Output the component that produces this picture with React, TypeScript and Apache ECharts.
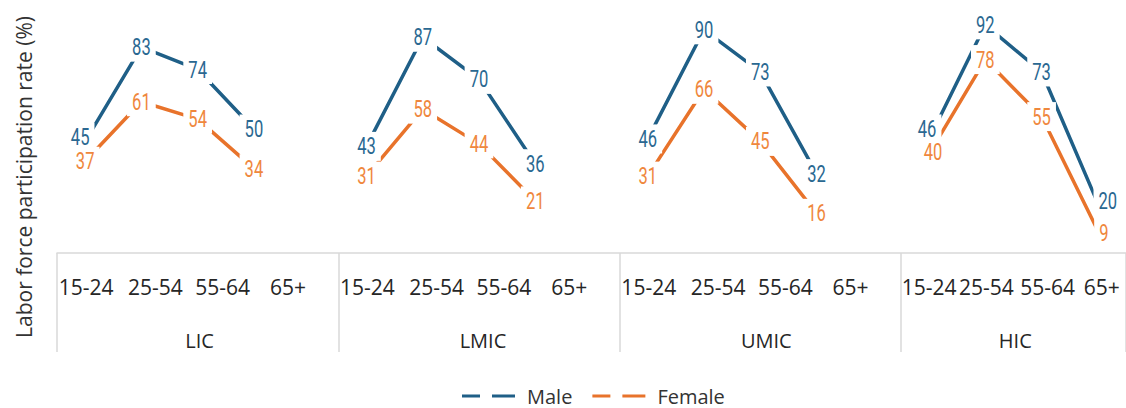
import React, { useEffect, useRef } from "react";
import * as echarts from "echarts";

const groups = ["LIC", "LMIC", "UMIC", "HIC"];
const ageGroups = ["15-24", "25-54", "55-64", "65+"];

const maleLIC = [45, 83, 74, 50];
const maleLMIC = [43, 87, 70, 36];
const maleUMIC = [46, 90, 73, 32];
const maleHIC = [46, 92, 73, 20];

const femaleLIC = [37, 61, 54, 34];
const femaleLMIC = [31, 58, 44, 21];
const femaleUMIC = [31, 66, 45, 16];
const femaleHIC = [40, 78, 55, 9];

const yTitle = "Labor force participation rate (%)";

const MALE_LINE = "#1F5F87";
const MALE_TEXT = "#2A6891";
const FEMALE_LINE = "#E8732B";
const FEMALE_TEXT = "#EF873D";
const GRID_GRAY = "#D9D9D9";
const TEXT_DARK = "#262626";

// label shifts (px) for the age labels inside a group, and for the group titles
const AGE_SHIFT = [1, 14, 25, 34];
const AGE_SHIFT_LAST = [0, 1, 6, 4];
const GROUP_SHIFT = [2, 4, 6, 30];
// small nudges of individual data labels [group, age, dx, dy]
const MALE_NUDGE = [
  [0, 0, -5, -4],
  [3, 0, -2, -10],
  [3, 3, 10, -2],
];
const FEMALE_NUDGE = [
  [3, 0, 4, -2],
  [3, 3, 6, 2],
];

export default function App() {
  const ref = useRef<HTMLDivElement>(null);

  useEffect(() => {
    if (!ref.current) return;
    const chart = echarts.init(ref.current, null, { renderer: "svg" });

    const maleByGroup = [maleLIC, maleLMIC, maleUMIC, maleHIC];
    const femaleByGroup = [femaleLIC, femaleLMIC, femaleUMIC, femaleHIC];

    const slots: string[] = [];
    const slotGroup: number[] = [];
    const slotAge: number[] = [];
    const groupSlots: string[] = [];
    const maleData: (number | null)[] = [];
    const femaleData: (number | null)[] = [];
    const maleLabels: number[][] = [];
    const femaleLabels: number[][] = [];
    const nudge = (list: number[][], gi: number, ai: number) => {
      const f = list.find((n) => n[0] === gi && n[1] === ai);
      return f ? [f[2], f[3]] : [0, 0];
    };
    groups.forEach((g, gi) => {
      const start = slots.length;
      const last = gi === groups.length - 1;
      ageGroups.forEach((a, ai) => {
        const idx = slots.length;
        slots.push(a);
        slotGroup.push(gi);
        slotAge.push(ai);
        maleData.push(maleByGroup[gi][ai]);
        femaleData.push(femaleByGroup[gi][ai]);
        const mn = nudge(MALE_NUDGE, gi, ai);
        const fn = nudge(FEMALE_NUDGE, gi, ai);
        maleLabels.push([idx, maleByGroup[gi][ai], mn[0], mn[1]]);
        femaleLabels.push([idx, femaleByGroup[gi][ai], fn[0], fn[1]]);
        groupSlots.push("");
      });
      if (!last) {
        slots.push("");
        slotGroup.push(gi);
        slotAge.push(-1);
        maleData.push(null);
        femaleData.push(null);
        groupSlots.push("");
      }
      groupSlots[start + (last ? 1 : 2)] = g;
    });

    const baseFont = { fontFamily: "'Open Sans', sans-serif", color: TEXT_DARK };
    const ageRich: any = {};
    for (let i = 0; i < 4; i++) {
      ageRich["a" + i] = { ...baseFont, fontSize: 21, padding: [0, 0, 0, 2 * AGE_SHIFT[i]] };
      ageRich["b" + i] = { ...baseFont, fontSize: 21, padding: [0, 0, 0, 2 * AGE_SHIFT_LAST[i]] };
    }
    const groupRich: any = {};
    for (let i = 0; i < groups.length; i++) {
      groupRich["g" + i] = { ...baseFont, fontSize: 20, padding: [0, 0, 0, 2 * GROUP_SHIFT[i]] };
    }

    const labelSeries = (name: string, data: number[][], color: string) => ({
      name,
      type: "custom",
      coordinateSystem: "cartesian2d",
      xAxisIndex: 0,
      yAxisIndex: 0,
      z: 5,
      silent: true,
      data,
      encode: { x: 0, y: 1 },
      renderItem: (params: any, api: any) => {
        const p = api.coord([api.value(0), api.value(1)]);
        return {
          type: "text",
          x: p[0] + api.value(2),
          y: p[1] + api.value(3),
          scaleX: 0.72,
          style: {
            text: String(api.value(1)),
            fontFamily: "Roboto, sans-serif",
            fontSize: 23,
            fill: color,
            align: "center",
            verticalAlign: "middle",
            backgroundColor: "#ffffff",
            padding: [3, 7],
          },
        };
      },
    });

    chart.setOption({
      animation: false,
      grid: { left: 57, right: -3, top: 5, bottom: 155, containLabel: false },
      xAxis: [
        {
          type: "category",
          data: slots,
          boundaryGap: true,
          axisLine: { show: true, lineStyle: { color: GRID_GRAY, width: 1.5 } },
          axisTick: {
            show: true,
            interval: (i: number) => i % 5 === 0,
            length: 99,
            lineStyle: { color: GRID_GRAY, width: 1.5 },
          },
          axisLabel: {
            interval: 0,
            margin: 34,
            verticalAlign: "middle",
            formatter: (v: string, i: number) => {
              if (!v) return "";
              const last = slotGroup[i] === groups.length - 1;
              return "{" + (last ? "b" : "a") + slotAge[i] + "|" + v + "}";
            },
            rich: ageRich,
          },
        },
        {
          type: "category",
          data: groupSlots,
          boundaryGap: true,
          position: "bottom",
          axisLine: { show: false },
          axisTick: { show: false },
          axisLabel: {
            interval: 0,
            margin: 87,
            verticalAlign: "middle",
            formatter: (v: string) => {
              if (!v) return "";
              return "{g" + groups.indexOf(v) + "|" + v + "}";
            },
            rich: groupRich,
          },
        },
      ],
      yAxis: {
        type: "value",
        min: 0,
        max: 100,
        show: false,
      },
      legend: {
        left: 462,
        top: 386,
        padding: 0,
        itemWidth: 53,
        itemHeight: 3,
        itemGap: 20,
        icon: "path://M0,0H18V3H0Z M30,0H53V3H30Z",
        formatter: "{t|{name}}",
        textStyle: {
          fontFamily: "'Open Sans', sans-serif",
          fontSize: 20,
          color: "#333333",
          rich: {
            t: {
              fontFamily: "'Open Sans', sans-serif",
              fontSize: 20,
              lineHeight: 22,
              color: "#333333",
              padding: [0, 0, 0, 7],
            },
          },
        },
        data: [
          { name: "Male", itemStyle: { color: MALE_LINE } },
          { name: "Female", itemStyle: { color: FEMALE_LINE } },
        ],
      },
      graphic: [
        {
          type: "text",
          x: 24,
          y: 177,
          rotation: Math.PI / 2,
          style: {
            text: yTitle,
            fontFamily: "'Open Sans', sans-serif",
            fontSize: 21,
            fill: "#333333",
            align: "center",
            verticalAlign: "middle",
          },
        },
      ],
      series: [
        {
          name: "Male",
          type: "line",
          data: maleData,
          connectNulls: false,
          symbol: "none",
          itemStyle: { color: MALE_LINE },
          lineStyle: { color: MALE_LINE, width: 3.5 },
        },
        {
          name: "Female",
          type: "line",
          data: femaleData,
          connectNulls: false,
          symbol: "none",
          itemStyle: { color: FEMALE_LINE },
          lineStyle: { color: FEMALE_LINE, width: 3.5 },
        },
        labelSeries("Male", maleLabels, MALE_TEXT),
        labelSeries("Female", femaleLabels, FEMALE_TEXT),
      ],
    });

    return () => chart.dispose();
  }, []);

  return (
    <div
      ref={ref}
      style={{ position: "absolute", left: 0, top: 0, width: 1126, height: 408 }}
    />
  );
}
